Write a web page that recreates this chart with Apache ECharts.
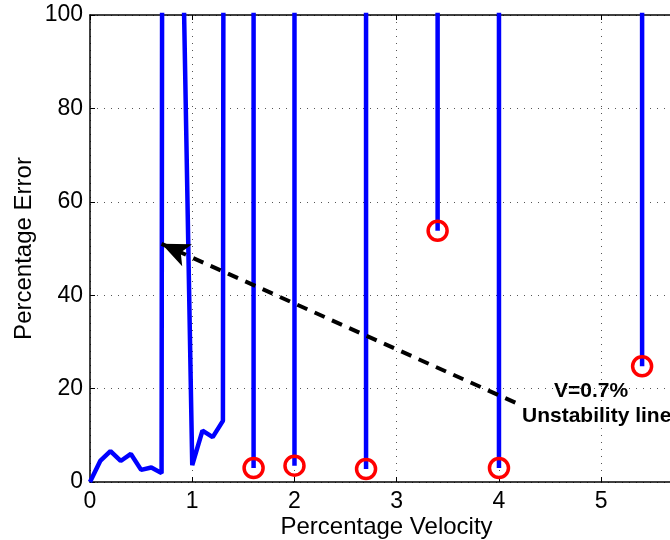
<!DOCTYPE html>
<html><head><meta charset="utf-8">
<script src="https://cdn.jsdelivr.net/npm/echarts@6/dist/echarts.min.js"></script>
<style>html,body{margin:0;padding:0;background:#fff}#c{width:670px;height:540px}</style>
</head><body><div id="c"></div>
<script>
// Main blue curve (values above 100 run off the top of the axes)
const curveX = [0, 0.1, 0.2, 0.3, 0.4, 0.5, 0.6, 0.7, 0.8, 0.9, 1.0, 1.1, 1.2, 1.3, 1.4];
const curveY = [0, 4.5, 6.6, 4.5, 6.0, 2.6, 3.1, 1.9, 2000, 125, 3.6, 11.0, 9.6, 13.1, 2000];
// Vertical drops ending in a red circle
const dropX = [1.6, 2.0, 2.7, 3.4, 4.0, 5.4];
const dropY = [3.0, 3.5, 2.8, 53.8, 3.0, 24.8];
const dropTop = 2000;
// Axes
const xRange = [0, 5.8];
const xStep = 1;
const yRange = [0, 100];
const yStep = 20;
// Annotation arrow (data coordinates) and text
const arrowFrom = [4.16, 17];
const arrowTo = [0.70, 51];
const noteLines = ['V=0.7%', 'Unstability line'];

const FF = '"Liberation Sans", Arial, Helvetica, sans-serif';
const chart = echarts.init(document.getElementById('c'), null, {renderer: 'canvas'});

const series = [];
series.push({
  type: 'line', data: curveX.map((x, i) => [x, curveY[i]]),
  showSymbol: false, symbol: 'none', clip: true,
  lineStyle: {color: '#0000ff', width: 4.5}, z: 3
});
dropX.forEach((x, i) => {
  series.push({
    type: 'line', data: [[x, dropTop], [x, dropY[i]]],
    showSymbol: false, symbol: 'none', clip: true,
    lineStyle: {color: '#0000ff', width: 4.5}, z: 3
  });
});
series.push({
  type: 'scatter', data: dropX.map((x, i) => [x, dropY[i]]),
  symbol: 'circle', symbolSize: 19, clip: false,
  itemStyle: {color: 'rgba(0,0,0,0)', borderColor: '#ff0000', borderWidth: 3.5, opacity: 1},
  z: 5,
  markLine: {
    silent: true, symbol: ['none', 'arrow'], symbolSize: [18, 28],
    lineStyle: {color: '#000', width: 4, type: [11, 8]},
    label: {show: false},
    data: [[{coord: arrowFrom}, {coord: arrowTo}]]
  }
});

const axisCommon = {
  axisLine: {show: true, onZero: false, lineStyle: {color: '#000', width: 1.5}},
  axisTick: {show: true, inside: true, length: 5, lineStyle: {color: '#000', width: 1}},
};

chart.setOption({
  animation: false,
  backgroundColor: '#fff',
  textStyle: {fontFamily: FF},
  grid: {left: 90, top: 15, right: -13, bottom: 58, containLabel: false, outerBoundsMode: 'none'},
  xAxis: [
    Object.assign({
      type: 'value', min: xRange[0], max: xRange[1], interval: xStep, position: 'bottom',
      axisLabel: {fontSize: 23, color: '#000', margin: 8, fontFamily: FF, showMaxLabel: false},
      splitLine: {show: true, lineStyle: {type: [1, 6], color: '#555', width: 1}},
      name: 'Percentage Velocity', nameLocation: 'middle', nameGap: 33, nameMoveOverlap: false,
      nameTextStyle: {fontSize: 24, color: '#000', fontFamily: FF}
    }, axisCommon),
    Object.assign({
      type: 'value', min: xRange[0], max: xRange[1], interval: xStep, position: 'top',
      axisLabel: {show: false}, splitLine: {show: false}
    }, axisCommon)
  ],
  yAxis: [
    Object.assign({
      type: 'value', min: yRange[0], max: yRange[1], interval: yStep, position: 'left',
      axisLabel: {fontSize: 23, color: '#000', margin: 7, fontFamily: FF},
      splitLine: {show: true, lineStyle: {type: [1, 6], color: '#555', width: 1}},
      name: 'Percentage Error', nameLocation: 'middle', nameGap: 54, nameMoveOverlap: false,
      nameTextStyle: {fontSize: 24, color: '#000', fontFamily: FF}
    }, axisCommon)
  ],
  series: series,
  graphic: [
    {type: 'text', left: 554, top: 381, z: 10,
     style: {text: noteLines[0], font: 'bold 21px ' + FF, fill: '#000'}},
    {type: 'text', left: 522, top: 406, z: 10,
     style: {text: noteLines[1], font: 'bold 21px ' + FF, fill: '#000'}}
  ]
});
</script>
</body></html>
